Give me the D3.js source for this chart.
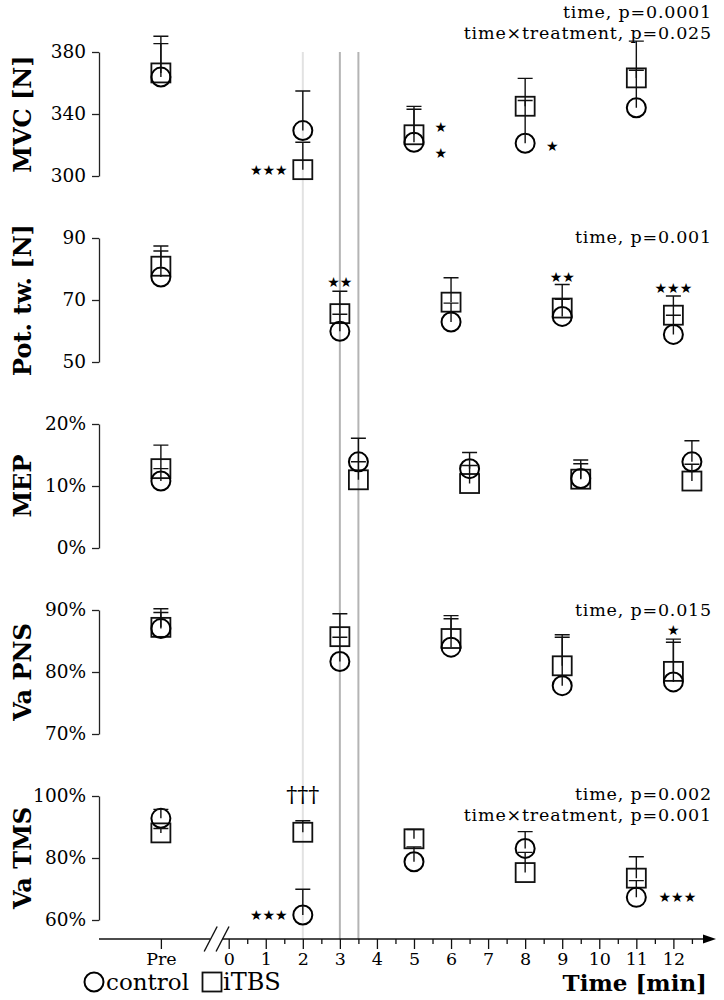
<!DOCTYPE html>
<html>
<head>
<meta charset="utf-8">
<script src="https://cdn.jsdelivr.net/npm/d3@7"></script>
<style>
  body { margin: 0; background: #fff; }
  svg { display: block; font-family: "DejaVu Serif", serif; }
</style>
</head>
<body>
<script>
// "Pre" sits on the time axis left of the break
var PRE = -1.83;

var panelNames = ["MVC [N]", "Pot. tw. [N]", "MEP", "Va PNS", "Va TMS"];

// MVC [N]
var mvcTimes = [PRE, 2, 5, 8, 11];
var mvcControl = [363.8, 329.3, 321.8, 321.1, 344.0];
var mvcControlHi = [385.4, 354.8, 343.1, 348.7, 368.2];
var mvcItbs = [366.5, 304.1, 326.6, 345.0, 363.3];
var mvcItbsHi = [390.2, 321.8, 344.9, 363.0, 387.0];
var mvcTicks = [300, 340, 380];
var mvcStats = ["time, p=0.0001", "time\u00d7treatment, p=0.025"];

// Pot. tw. [N]
var potTimes = [PRE, 3, 6, 9, 12];
var potControl = [77.4, 59.9, 62.9, 64.7, 58.9];
var potControlHi = [85.8, 65.4, 69.0, 70.2, 65.1];
var potItbs = [80.9, 65.6, 69.3, 67.4, 65.1];
var potItbsHi = [87.4, 72.8, 77.2, 75.0, 71.3];
var potTicks = [50, 70, 90];
var potStats = ["time, p=0.001"];

// MEP [%]
var mepTimes = [PRE, 3.5, 6.5, 9.5, 12.5];
var mepControl = [10.8, 13.9, 12.8, 11.2, 13.9];
var mepControlHi = [12.8, 17.7, 15.4, 13.6, 17.3];
var mepItbs = [12.8, 11.0, 10.4, 11.1, 10.8];
var mepItbsHi = [16.6, 13.9, 13.3, 14.2, 13.5];
var mepTicks = [0, 10, 20];
var mepStats = [];

// Va PNS [%]
var pnsTimes = [PRE, 3, 6, 9, 12];
var pnsControl = [87.0, 81.7, 84.0, 77.8, 78.4];
var pnsControlHi = [89.6, 85.6, 88.6, 85.6, 84.8];
var pnsItbs = [87.2, 85.7, 85.4, 81.0, 80.1];
var pnsItbsHi = [90.2, 89.4, 89.1, 86.0, 85.3];
var pnsTicks = [70, 80, 90];
var pnsStats = ["time, p=0.015"];

// Va TMS [%]
var tmsTimes = [PRE, 2, 5, 8, 11];
var tmsControl = [92.8, 61.6, 78.8, 83.1, 67.3];
var tmsControlHi = [95.7, 69.9, 83.6, 88.5, 72.7];
var tmsItbs = [88.1, 88.3, 86.2, 75.3, 73.5];
var tmsItbsHi = [89.5, 92.0, 89.2, 81.8, 80.4];
var tmsTicks = [60, 80, 100];
var tmsStats = ["time, p=0.002", "time\u00d7treatment, p=0.001"];

// significance marks: panel, time, value, symbol, anchor
var sigPanel = [0, 0, 0, 0, 1, 1, 1, 3, 4, 4, 4];
var sigTime = [1.59, 5.72, 5.72, 8.73, 3, 9, 12, 12, 1.59, 2, 11.6];
var sigValue = [304.1, 331.5, 314.7, 319.4, 75.8, 77.4, 73.7, 86.8, 61.6, 100.6, 67.4];
var sigText = ["\u2605\u2605\u2605", "\u2605", "\u2605", "\u2605", "\u2605\u2605", "\u2605\u2605",
               "\u2605\u2605\u2605", "\u2605", "\u2605\u2605\u2605", "\u2020\u2020\u2020", "\u2605\u2605\u2605"];
var sigAnchor = ["end", "middle", "middle", "middle", "middle", "middle", "middle", "middle", "end", "middle", "start"];

var xTickLabels = ["Pre", "0", "1", "2", "3", "4", "5", "6", "7", "8", "9", "10", "11", "12"];
var markerLines = [2, 3, 3.5];

var pct = function(d) { return d + "%"; };
var panels = [
  { name: panelNames[0], t: mvcTimes, c: mvcControl, cHi: mvcControlHi, s: mvcItbs, sHi: mvcItbsHi, ticks: mvcTicks, stats: mvcStats, fmt: String, statDy: -40 },
  { name: panelNames[1], t: potTimes, c: potControl, cHi: potControlHi, s: potItbs, sHi: potItbsHi, ticks: potTicks, stats: potStats, fmt: String, statDy: -1 },
  { name: panelNames[2], t: mepTimes, c: mepControl, cHi: mepControlHi, s: mepItbs, sHi: mepItbsHi, ticks: mepTicks, stats: mepStats, fmt: pct, statDy: 0 },
  { name: panelNames[3], t: pnsTimes, c: pnsControl, cHi: pnsControlHi, s: pnsItbs, sHi: pnsItbsHi, ticks: pnsTicks, stats: pnsStats, fmt: pct, statDy: 0 },
  { name: panelNames[4], t: tmsTimes, c: tmsControl, cHi: tmsControlHi, s: tmsItbs, sHi: tmsItbsHi, ticks: tmsTicks, stats: tmsStats, fmt: pct, statDy: -2 }
];

// layout
var width = 724, height = 1000;
var panelTop = 52, panelStep = 186, panelH = 124;
var axisY = 939;
var r = 9.5, sq = 19, cap = 7.5;

var x = d3.scaleLinear().domain([-3.5, 13.15]).range([99, 716]);

var svg = d3.select("body").append("svg")
    .attr("width", width)
    .attr("height", height);

// grey reference lines behind everything
svg.selectAll(".vline")
  .data(markerLines)
  .enter().append("line")
    .attr("x1", function(d) { return x(d); })
    .attr("x2", function(d) { return x(d); })
    .attr("y1", panelTop)
    .attr("y2", axisY)
    .attr("stroke", function(d, i) { return i === 0 ? "#e2e2e2" : "#b4b4b4"; })
    .attr("stroke-width", 2);

panels.forEach(function(p, i) {
  var top = panelTop + i * panelStep;
  var y = d3.scaleLinear()
      .domain([p.ticks[0], p.ticks[p.ticks.length - 1]])
      .range([top + panelH, top]);

  var g = svg.append("g");

  // y axis
  var ax = g.append("g")
      .attr("transform", "translate(" + x.range()[0] + ",0)")
      .call(d3.axisLeft(y).tickValues(p.ticks).tickSize(7).tickSizeOuter(0).tickPadding(6).tickFormat(p.fmt));
  ax.select(".domain").attr("stroke", "#222").attr("stroke-width", 1.3);
  ax.selectAll(".tick line").attr("stroke", "#222").attr("stroke-width", 1.3);
  ax.selectAll(".tick text")
      .attr("font-family", "DejaVu Serif")
      .attr("font-size", 18.5)
      .attr("fill", "#000");

  // y label
  g.append("text")
      .attr("transform", "translate(31," + (top + panelH / 2) + ") rotate(-90)")
      .attr("text-anchor", "middle")
      .attr("font-weight", "bold")
      .attr("font-size", 24)
      .text(p.name);

  // stats text, top right
  g.selectAll(".stat")
    .data(p.stats)
    .enter().append("text")
      .attr("x", 712)
      .attr("y", function(d, k) { return top + p.statDy + k * 20.5; })
      .attr("dy", "0.35em")
      .attr("text-anchor", "end")
      .attr("font-size", 17.5)
      .attr("letter-spacing", 0.8)
      .text(function(d) { return d; });

  var rows = p.t.map(function(t, k) {
    return { t: t, c: p.c[k], cHi: p.cHi[k], s: p.s[k], sHi: p.sHi[k] };
  });

  // markers
  g.selectAll(".sq")
    .data(rows)
    .enter().append("rect")
      .attr("x", function(d) { return x(d.t) - sq / 2; })
      .attr("y", function(d) { return y(d.s) - sq / 2; })
      .attr("width", sq)
      .attr("height", sq)
      .attr("fill", "none")
      .attr("stroke", "#111")
      .attr("stroke-width", 1.8);

  g.selectAll(".ci")
    .data(rows)
    .enter().append("circle")
      .attr("cx", function(d) { return x(d.t); })
      .attr("cy", function(d) { return y(d.c); })
      .attr("r", r)
      .attr("fill", "none")
      .attr("stroke", "#000")
      .attr("stroke-width", 2);

  // upward error bars with caps
  [["c", "cHi"], ["s", "sHi"]].forEach(function(key) {
    g.selectAll(".eb-" + key[0])
      .data(rows)
      .enter().append("path")
        .attr("d", function(d) {
          var cx = x(d.t), y0 = y(d[key[0]]), y1 = y(d[key[1]]);
          return "M" + cx + "," + y0 + "V" + y1 + "M" + (cx - cap) + "," + y1 + "H" + (cx + cap);
        })
        .attr("fill", "none")
        .attr("stroke", "#111")
        .attr("stroke-width", 1.4);
  });

  // significance marks
  sigPanel.forEach(function(pi, k) {
    if (pi !== i) return;
    var dagger = sigText[k].charAt(0) === "\u2020";
    g.append("text")
        .attr("x", x(sigTime[k]))
        .attr("y", y(sigValue[k]))
        .attr("dy", "0.35em")
        .attr("text-anchor", sigAnchor[k])
        .attr("font-family", dagger ? "DejaVu Serif" : "DejaVu Sans")
        .attr("font-size", dagger ? 22 : 14)
        .text(sigText[k]);
  });
});

// x axis: ticks at every half minute, labels on whole minutes and Pre
var xTickValues = [PRE].concat(d3.range(0, 12.51, 0.5));
var xa = svg.append("g")
    .attr("transform", "translate(0," + axisY + ")")
    .call(d3.axisBottom(x).tickValues(xTickValues).tickSizeOuter(0).tickPadding(7)
      .tickFormat(function(d) {
        if (d === PRE) return xTickLabels[0];
        return d % 1 === 0 ? xTickLabels[d + 1] : "";
      }));
xa.select(".domain").remove();
xa.selectAll(".tick line")
    .attr("y2", function(d) { return (d % 1 === 0 || d === PRE) ? 10 : 5; })
    .attr("stroke", "#111")
    .attr("stroke-width", 1.3);
xa.selectAll(".tick text")
    .attr("y", 14)
    .attr("font-family", "DejaVu Serif")
    .attr("font-size", 17.5)
    .attr("fill", "#000");

// axis line with break and arrow
var brk1 = -0.5, brk2 = -0.18;
svg.append("line")
    .attr("x1", x.range()[0]).attr("x2", x(brk1))
    .attr("y1", axisY).attr("y2", axisY)
    .attr("stroke", "#111").attr("stroke-width", 1.3);
svg.append("line")
    .attr("x1", x(brk2)).attr("x2", x.range()[1] - 8)
    .attr("y1", axisY).attr("y2", axisY)
    .attr("stroke", "#111").attr("stroke-width", 1.3);
svg.selectAll(".brk")
  .data([brk1, brk2])
  .enter().append("line")
    .attr("x1", function(d) { return x(d) - 6; })
    .attr("x2", function(d) { return x(d) + 7; })
    .attr("y1", axisY + 12.5)
    .attr("y2", axisY - 12.5)
    .attr("stroke", "#111")
    .attr("stroke-width", 1.4);
var xe = x.range()[1];
svg.append("path")
    .attr("d", "M" + xe + "," + axisY + "L" + (xe - 13) + "," + (axisY - 4.5) + "L" + (xe - 13) + "," + (axisY + 4.5) + "Z")
    .attr("fill", "#000");

svg.append("text")
    .attr("x", 707)
    .attr("y", 991)
    .attr("text-anchor", "end")
    .attr("font-weight", "bold")
    .attr("font-size", 23)
    .text("Time [min]");

// legend
var leg = svg.append("g").attr("transform", "translate(0,982)");
leg.append("circle").attr("cx", 94).attr("cy", 0).attr("r", r)
    .attr("fill", "none").attr("stroke", "#000").attr("stroke-width", 2);
leg.append("text").attr("x", 106).attr("y", 0).attr("dy", "0.35em")
    .attr("font-size", 23).text("control");
leg.append("rect").attr("x", 212 - sq / 2).attr("y", -sq / 2).attr("width", sq).attr("height", sq)
    .attr("fill", "none").attr("stroke", "#111").attr("stroke-width", 1.8);
leg.append("text").attr("x", 223).attr("y", 0).attr("dy", "0.35em")
    .attr("font-size", 24).text("iTBS");
</script>
</body>
</html>
